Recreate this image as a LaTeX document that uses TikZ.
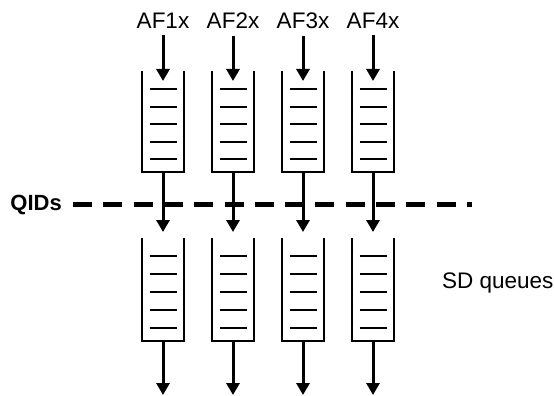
\documentclass[tikz,border=0pt]{standalone}
\usepackage{fontspec}
\setmainfont{Liberation Sans}
\usetikzlibrary{arrows.meta}
\begin{document}
\begin{tikzpicture}[x=1pt,y=-1pt,
  lbl/.style={font=\fontsize{22.5}{26}\selectfont, inner sep=0pt},
  qbox/.style={minimum width=42pt, minimum height=#1, inner sep=0pt, outer sep=0pt},
  qwall/.style={line width=1.3pt},
  slot/.style={line width=1.3pt},
  flow/.style={line width=3pt, -{Triangle[width=13pt,length=12pt]}},
  qline/.style={line width=4.6pt, dash pattern=on 19pt off 11.3pt}]
\useasboundingbox (0,0) rectangle (554,396);

% dashed QID line
\node[lbl, font=\fontsize{22}{26}\selectfont\bfseries, anchor=east] (qid) at (62,204.5) {QIDs};
\coordinate (qe) at (472,204.5);
\draw[qline] (qid.east) ++(11,0) -- (qe);

\node[lbl, anchor=west] (sd) at (442,283) {SD queues};

\foreach \i/\x in {1/163,2/233,3/303,4/373}{
  % labels
  \node[lbl] (a\i) at (\x,20.5) {AF\i x};
  % top queue
  \node[qbox=101pt] (q\i) at (\x,121.5) {};
  \draw[qwall] (q\i.north west) -- (q\i.south west) -- (q\i.south east) -- (q\i.north east);
  \foreach \y in {89,107,124,142,159}{
    \draw[slot] (\x-13.5,\y) -- (\x+13.5,\y);
  }
  % bottom queue
  \node[qbox=103pt] (s\i) at (\x,289.5) {};
  \draw[qwall] (s\i.north west) -- (s\i.south west) -- (s\i.south east) -- (s\i.north east);
  \foreach \y in {256,274,292,310,328}{
    \draw[slot] (\x-13.5,\y) -- (\x+13.5,\y);
  }
  % arrows
  \coordinate (t\i) at (\x,81);
  \coordinate (b\i) at (\x,395);
  \draw[flow, shorten <=7pt] (a\i.south) -- (t\i);
  \draw[flow, shorten >=6pt] (q\i.south) -- (s\i.north);
  \draw[flow] (s\i.south) -- (b\i);
}
\end{tikzpicture}
\end{document}
